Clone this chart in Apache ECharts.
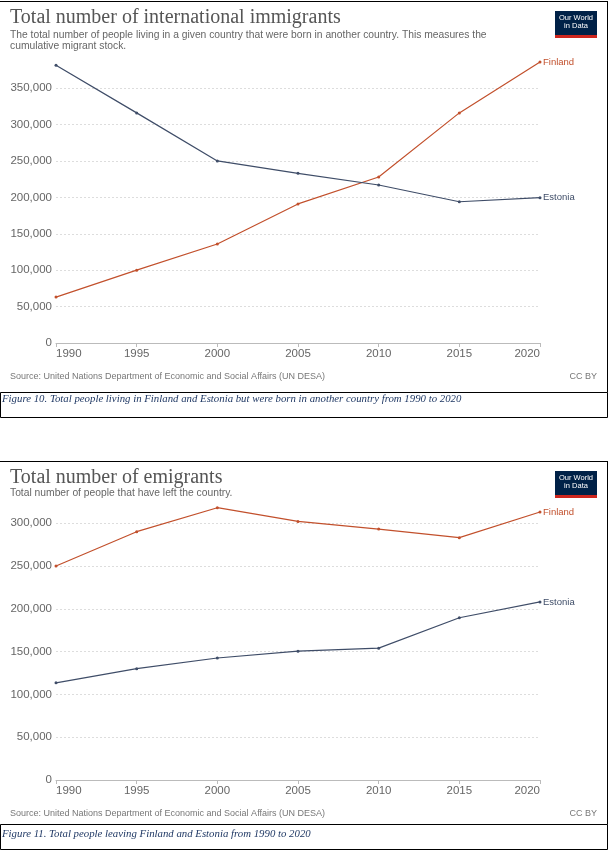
<!DOCTYPE html>
<html>
<head>
<meta charset="utf-8">
<script src="https://cdn.jsdelivr.net/npm/echarts@6/dist/echarts.min.js"></script>
<style>
html,body{margin:0;padding:0;background:#fff;}
#chart{width:609px;height:854px;}
</style>
</head>
<body>
<div id="chart"></div>
<script>
// ---- data ----
var years = ['1990', '1995', '2000', '2005', '2010', '2015', '2020'];
var immigrantsFinland = [63000, 100000, 136000, 191000, 228000, 316000, 386000];
var immigrantsEstonia = [381500, 316000, 250000, 233000, 217000, 194000, 199500];
var emigrantsFinland = [250000, 290000, 318000, 302000, 293000, 283000, 313000];
var emigrantsEstonia = [113500, 130000, 142500, 150500, 154000, 189500, 208000];
var seriesNames = ['Finland', 'Estonia'];

var title1 = 'Total number of international immigrants';
var sub1a = 'The total number of people living in a given country that were born in another country. This measures the';
var sub1b = 'cumulative migrant stock.';
var title2 = 'Total number of emigrants';
var sub2 = 'Total number of people that have left the country.';
var sourceText = 'Source: United Nations Department of Economic and Social Affairs (UN DESA)';
var licenseText = 'CC BY';
var caption1 = 'Figure 10. Total people living in Finland and Estonia but were born in another country from 1990 to 2020';
var caption2 = 'Figure 11. Total people leaving Finland and Estonia from 1990 to 2020';

var C_FIN = '#c2502c';
var C_EST = '#3f4d68';
var SANS = '"Liberation Sans", Arial, sans-serif';
var SERIF = '"Liberation Serif", "Times New Roman", serif';

function fmt(v) {
  if (v % 50000 !== 0) return '';
  return String(v).replace(/\B(?=(\d{3})+(?!\d))/g, ',');
}

function xAx(gi) {
  return {
    gridIndex: gi, type: 'category', data: years, boundaryGap: false,
    axisLine: {show: true, lineStyle: {color: '#bbb', width: 1}},
    axisTick: {show: true, length: 4, lineStyle: {color: '#bbb'}},
    axisLabel: {color: '#666', fontSize: 11.5, fontFamily: SANS, margin: 5,
      alignMinLabel: 'left', alignMaxLabel: 'right'},
    splitLine: {show: false}
  };
}
function yAx(gi, max) {
  return {
    gridIndex: gi, type: 'value', min: 0, max: max, interval: 50000,
    axisLine: {show: false}, axisTick: {show: false},
    axisLabel: {color: '#666', fontSize: 11.5, fontFamily: SANS, margin: 4,
      showMaxLabel: false, formatter: fmt},
    splitLine: {show: true, showMaxLine: false, lineStyle: {color: '#ddd', type: [2, 2], width: 1}}
  };
}
function ser(name, data, color, gi) {
  return {
    name: name, type: 'line', data: data, xAxisIndex: gi, yAxisIndex: gi,
    symbol: 'circle', symbolSize: 3, showSymbol: true,
    lineStyle: {color: color, width: 1.2}, itemStyle: {color: color},
    endLabel: {show: true, formatter: name, color: color, fontSize: 9.5,
      fontFamily: SANS, distance: 3},
    animation: false, silent: true
  };
}
function txt(x, y, s, font, fill, align) {
  return {type: 'text', x: x, y: y, silent: true,
    style: {text: s, font: font, fill: fill, textAlign: align || 'left', textVerticalAlign: 'middle'}};
}
function logo(x, y) {
  return [
    {type: 'rect', shape: {x: x, y: y, width: 42, height: 27}, style: {fill: '#002147'}},
    {type: 'rect', shape: {x: x, y: y + 24, width: 42, height: 3}, style: {fill: '#ce261e'}},
    txt(x + 21, y + 7, 'Our World', '7.5px ' + SANS, '#fff', 'center'),
    txt(x + 21, y + 15, 'in Data', '7.5px ' + SANS, '#fff', 'center')
  ];
}
function box(top, capTop, bottom) {
  return [
    {type: 'line', shape: {x1: 0, y1: top, x2: 608, y2: top}, style: {stroke: '#000', lineWidth: 1}},
    {type: 'line', shape: {x1: 607.5, y1: top, x2: 607.5, y2: capTop}, style: {stroke: '#000', lineWidth: 1}},
    {type: 'rect', shape: {x: 0.5, y: capTop, width: 607, height: bottom - capTop}, style: {fill: 'none', stroke: '#000', lineWidth: 1}}
  ];
}

var graphics = [].concat(
  box(1.5, 392.5, 417.5),
  box(461.5, 824.5, 849.5),
  [
    txt(10, 18, title1, '20px ' + SERIF, '#555'),
    txt(10, 35, sub1a, '10.3px ' + SANS, '#666'),
    txt(10, 46, sub1b, '10.3px ' + SANS, '#666'),
    txt(10, 377, sourceText, '9px ' + SANS, '#777'),
    txt(597, 377, licenseText, '9px ' + SANS, '#777', 'right'),
    txt(2, 399, caption1, 'italic 10.8px ' + SERIF, '#1f3864'),
    txt(10, 478, title2, '20px ' + SERIF, '#555'),
    txt(10, 493, sub2, '10.3px ' + SANS, '#666'),
    txt(10, 814, sourceText, '9px ' + SANS, '#777'),
    txt(597, 814, licenseText, '9px ' + SANS, '#777', 'right'),
    txt(2, 834, caption2, 'italic 10.8px ' + SERIF, '#1f3864')
  ],
  logo(555, 11),
  logo(555, 471)
);

var chart = echarts.init(document.getElementById('chart'), null, {renderer: 'canvas'});
chart.setOption({
  animation: false,
  backgroundColor: '#fff',
  grid: [
    {left: 56, right: 69, top: 59, height: 284},
    {left: 56, right: 69, top: 506, height: 274}
  ],
  xAxis: [xAx(0), xAx(1)],
  yAxis: [yAx(0, 390000), yAx(1, 320000)],
  series: [
    ser(seriesNames[0], immigrantsFinland, C_FIN, 0),
    ser(seriesNames[1], immigrantsEstonia, C_EST, 0),
    ser(seriesNames[0], emigrantsFinland, C_FIN, 1),
    ser(seriesNames[1], emigrantsEstonia, C_EST, 1)
  ],
  graphic: graphics
});
</script>
</body>
</html>
